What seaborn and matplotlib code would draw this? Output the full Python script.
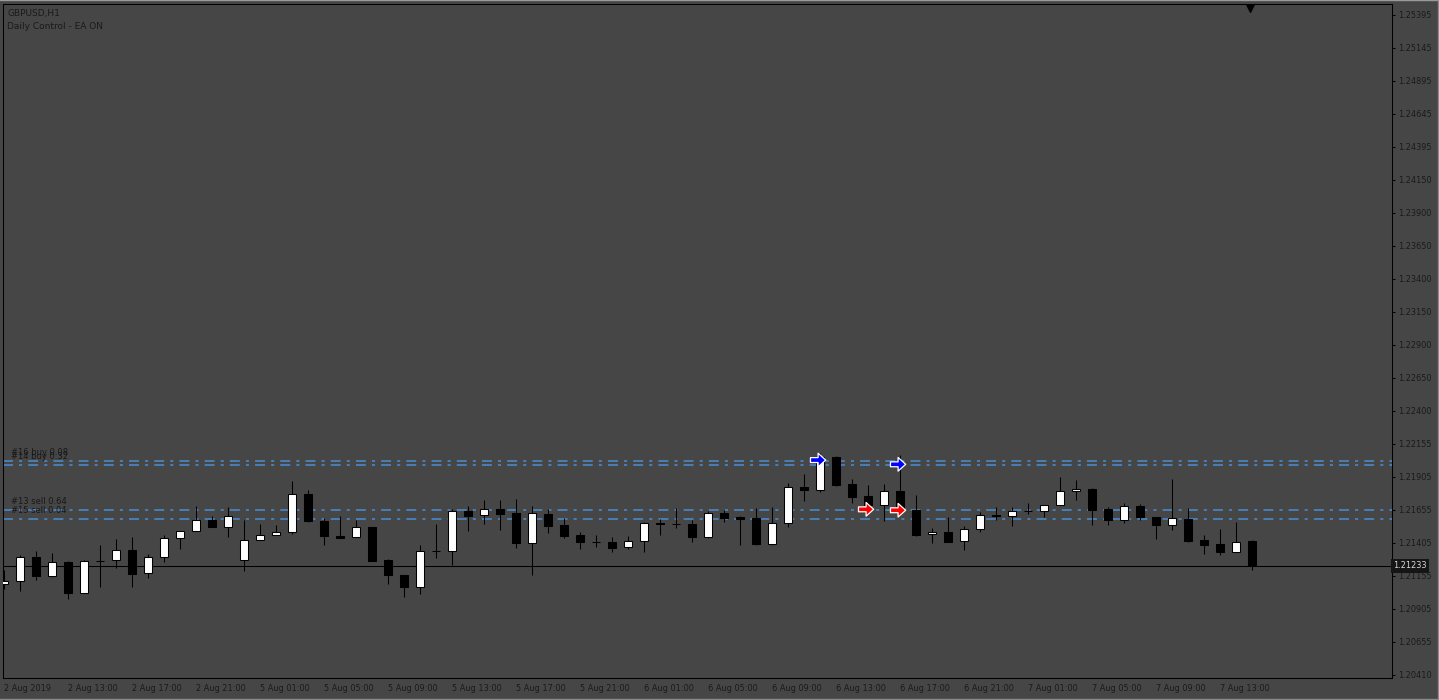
import numpy as np
import pandas as pd
import matplotlib
matplotlib.use("Agg")
import matplotlib.pyplot as plt
from matplotlib.path import Path
from matplotlib.transforms import blended_transform_factory
import seaborn as sns

# ---------------- data ----------------
times = list(pd.date_range("2019-08-02 09:00", "2019-08-02 23:00", freq="h")) + \
        list(pd.date_range("2019-08-05 00:00", "2019-08-07 15:00", freq="h"))

opens = [1.21095, 1.21118, 1.21299, 1.21160, 1.21261, 1.21027, 1.21269, 1.21276, 1.21352, 1.21178,
         1.21299, 1.21442, 1.21495, 1.21578, 1.21525, 1.21276, 1.21427, 1.21465, 1.21488, 1.21775,
         1.21575, 1.21462, 1.21450, 1.21525, 1.21276, 1.21163, 1.21077, 1.21344, 1.21344, 1.21646,
         1.21616, 1.21661, 1.21631, 1.21405, 1.21626, 1.21540, 1.21465, 1.21412, 1.21412, 1.21374,
         1.21420, 1.21556, 1.21550, 1.21552, 1.21454, 1.21631, 1.21603, 1.21596, 1.21402, 1.21556,
         1.21827, 1.21809, 1.22056, 1.21852, 1.21762, 1.21696, 1.21797, 1.21656, 1.21473, 1.21488,
         1.21420, 1.21510, 1.21616, 1.21613, 1.21646, 1.21645, 1.21691, 1.21797, 1.21812, 1.21661,
         1.21583, 1.21684, 1.21601, 1.21540, 1.21586, 1.21430, 1.21399, 1.21337, 1.21420]
highs = [1.21203, 1.21316, 1.21346, 1.21331, 1.21273, 1.21276, 1.21389, 1.21437, 1.21450, 1.21324,
         1.21467, 1.21495, 1.21686, 1.21608, 1.21676, 1.21578, 1.21550, 1.21543, 1.21875, 1.21807,
         1.21593, 1.21611, 1.21581, 1.21525, 1.21286, 1.21163, 1.21392, 1.21550, 1.21661, 1.21686,
         1.21732, 1.21732, 1.21737, 1.21686, 1.21661, 1.21593, 1.21488, 1.21467, 1.21452, 1.21460,
         1.21568, 1.21588, 1.21671, 1.21581, 1.21648, 1.21656, 1.21611, 1.21671, 1.21679, 1.21860,
         1.21928, 1.22084, 1.22064, 1.21890, 1.21845, 1.21852, 1.22071, 1.21769, 1.21518, 1.21601,
         1.21535, 1.21641, 1.21679, 1.21679, 1.21709, 1.21691, 1.21905, 1.21883, 1.21822, 1.21679,
         1.21709, 1.21701, 1.21601, 1.21890, 1.21669, 1.21465, 1.21510, 1.21565, 1.21430]
lows = [1.21057, 1.21047, 1.21130, 1.21152, 1.20986, 1.21027, 1.21077, 1.21220, 1.21072, 1.21145,
        1.21266, 1.21364, 1.21495, 1.21525, 1.21454, 1.21198, 1.21427, 1.21465, 1.21473, 1.21565,
        1.21392, 1.21447, 1.21450, 1.21273, 1.21100, 1.21001, 1.21024, 1.21296, 1.21243, 1.21500,
        1.21553, 1.21507, 1.21371, 1.21168, 1.21485, 1.21447, 1.21364, 1.21379, 1.21341, 1.21359,
        1.21341, 1.21470, 1.21522, 1.21417, 1.21447, 1.21568, 1.21394, 1.21394, 1.21394, 1.21530,
        1.21726, 1.21794, 1.21840, 1.21711, 1.21696, 1.21575, 1.21651, 1.21462, 1.21409, 1.21417,
        1.21354, 1.21492, 1.21581, 1.21537, 1.21626, 1.21605, 1.21691, 1.21734, 1.21545, 1.21545,
        1.21556, 1.21583, 1.21439, 1.21507, 1.21417, 1.21326, 1.21319, 1.21337, 1.21205]
closes = [1.21118, 1.21299, 1.21160, 1.21261, 1.21027, 1.21269, 1.21271, 1.21352, 1.21175, 1.21299,
          1.21442, 1.21495, 1.21578, 1.21525, 1.21608, 1.21427, 1.21465, 1.21488, 1.21775, 1.21573,
          1.21462, 1.21447, 1.21525, 1.21273, 1.21168, 1.21077, 1.21344, 1.21343, 1.21646, 1.21613,
          1.21661, 1.21628, 1.21405, 1.21631, 1.21537, 1.21462, 1.21412, 1.21413, 1.21371, 1.21420,
          1.21556, 1.21548, 1.21552, 1.21454, 1.21631, 1.21598, 1.21590, 1.21402, 1.21556, 1.21827,
          1.21809, 1.22056, 1.21847, 1.21756, 1.21696, 1.21797, 1.21651, 1.21470, 1.21488, 1.21417,
          1.21510, 1.21616, 1.21608, 1.21646, 1.21645, 1.21691, 1.21797, 1.21812, 1.21658, 1.21583,
          1.21684, 1.21601, 1.21540, 1.21593, 1.21424, 1.21394, 1.21341, 1.21412, 1.21233]

order_labels = ["#16 buy 0.08", "#14 buy 0.32", "#13 sell 0.64", "#15 sell 0.04"]
order_prices = [1.22028, 1.21998, 1.21656, 1.21590]

arrow_bars = [51, 56, 54, 56]
arrow_prices = [1.22033, 1.22001, 1.21661, 1.21654]
arrow_colors = ["#0000ff", "#0000ff", "#ff0000", "#ff0000"]

current_price = 1.21233

ytick_labels = ["1.25395", "1.25145", "1.24895", "1.24645", "1.24395", "1.24150", "1.23900",
                "1.23650", "1.23400", "1.23150", "1.22900", "1.22650", "1.22400", "1.22155",
                "1.21905", "1.21655", "1.21405", "1.21155", "1.20905", "1.20655", "1.20410"]
ytick_top, ytick_bottom = 1.25395, 1.20410
y_view = (1.20387, 1.25474)
x_view = (-0.0625, 86.75)

xtick_bars = [0, 4, 8, 12, 16, 20, 24, 28, 32, 36, 40, 44, 48, 52, 56, 60, 64, 68, 72, 76]
xtick_labels = ["2 Aug 2019", "2 Aug 13:00", "2 Aug 17:00", "2 Aug 21:00", "5 Aug 01:00",
                "5 Aug 05:00", "5 Aug 09:00", "5 Aug 13:00", "5 Aug 17:00", "5 Aug 21:00",
                "6 Aug 01:00", "6 Aug 05:00", "6 Aug 09:00", "6 Aug 13:00", "6 Aug 17:00",
                "6 Aug 21:00", "7 Aug 01:00", "7 Aug 05:00", "7 Aug 09:00", "7 Aug 13:00"]

title_lines = ["GBPUSD,H1", "Daily Control - EA ON"]

# ---------------- style ----------------
BG = "#464646"
TXT = "#1a1a1a"
sns.set_theme(style="dark", rc={
    "axes.facecolor": BG, "figure.facecolor": BG, "axes.edgecolor": "black",
    "axes.linewidth": 0.75, "xtick.color": "black", "ytick.color": "black",
    "xtick.labelcolor": TXT, "ytick.labelcolor": TXT,
})
plt.rcParams["font.family"] = ["DejaVu Sans"]

fig = plt.figure(figsize=(14.39, 7.0), dpi=100)
ax = fig.add_axes([3 / 1439, 22 / 700, 1389 / 1439, 673.5 / 700])

df = pd.DataFrame({"time": times, "open": opens, "high": highs, "low": lows, "close": closes})
df["idx"] = np.arange(len(df))
df["bull"] = df["close"] >= df["open"]

# wicks
ax.vlines(df["idx"], df["low"], df["high"], color="black", linewidth=0.75, zorder=3)
# bodies
heights = (df["close"] - df["open"]).to_numpy()
heights = np.where(np.abs(heights) < 1e-6, 1e-6, heights)
ax.bar(df["idx"], heights, bottom=df["open"], width=0.56,
       color=np.where(df["bull"], "white", "black"), edgecolor="black",
       linewidth=0.75, zorder=4)

# order lines + labels
for lab, pr in zip(order_labels, order_prices):
    ax.axhline(pr, color="#4a8fd3", linewidth=1.1, linestyle=(0, (6.5, 4.0, 2.0, 4.0)), zorder=2)
    ax.text(0.44, pr + 0.0003, lab, fontsize=6.0, color="#181818", ha="left", va="bottom", zorder=5)

# current price line
ax.axhline(current_price, color="black", linewidth=0.75, zorder=2)

# trade arrows
arrow_path = Path([(-1, -0.32), (0.0, -0.32), (0.0, -0.9), (1, 0), (0.0, 0.9),
                   (0.0, 0.32), (-1, 0.32), (-1, -0.32)],
                  [Path.MOVETO] + [Path.LINETO] * 6 + [Path.CLOSEPOLY])
arr_df = pd.DataFrame({"x": np.array(arrow_bars) - 0.12, "y": arrow_prices, "c": arrow_colors})
sns.scatterplot(data=arr_df, x="x", y="y", hue="c", palette={c: c for c in set(arrow_colors)},
                marker=arrow_path, s=120, edgecolor="white", linewidth=0.9, legend=False,
                zorder=6, ax=ax)

ax.set_xlim(*x_view)
ax.set_ylim(*y_view)
ax.set_xlabel("")
ax.set_ylabel("")

# y ticks on right
ax.yaxis.tick_right()
yt = np.linspace(ytick_top, ytick_bottom, len(ytick_labels))
ax.set_yticks(yt)
ax.set_yticklabels(ytick_labels)
ax.tick_params(axis="y", direction="out", length=2.5, width=0.75, pad=1.5, labelsize=5.9)

ax.set_xticks(xtick_bars)
ax.set_xticklabels(xtick_labels)
ax.tick_params(axis="x", direction="out", length=2.8, width=0.75, pad=1.5, labelsize=5.9)
for t in ax.get_xticklabels():
    t.set_horizontalalignment("left")

for s in ax.spines.values():
    s.set_visible(True)
    s.set_color("black")
    s.set_linewidth(0.75)
ax.grid(False)

# current price label on the axis
trans = blended_transform_factory(ax.transAxes, ax.transData)
ax.text(1.0008, current_price, "1.21233", transform=trans, fontsize=5.9, color="#d8d8d8",
        ha="left", va="center", zorder=7,
        bbox=dict(boxstyle="square,pad=0.25", fc="#151515", ec="none"), clip_on=False)

# chart shift marker
px = (y_view[1] - y_view[0]) / 673.5
ax.scatter([77.9], [y_view[1] - 3.2 * px], marker="v", s=30, color="black", zorder=7, clip_on=False)

# top-left text
ax.text(0.003, 0.987, title_lines[0], transform=ax.transAxes, fontsize=6.5, color=TXT,
        ha="left", va="center")
ax.text(0.003, 0.968, title_lines[1], transform=ax.transAxes, fontsize=6.5, color=TXT,
        ha="left", va="center")

# window border
fig.add_artist(plt.Line2D([0, 1], [0.9995, 0.9995], transform=fig.transFigure, color="#9a9a9a", lw=1))
fig.add_artist(plt.Line2D([0.9995, 0.9995], [0, 1], transform=fig.transFigure, color="#8a8a8a", lw=1))
fig.add_artist(plt.Line2D([0, 1], [0.001, 0.001], transform=fig.transFigure, color="#8a8a8a", lw=1))

fig.savefig("out.png", dpi=100, facecolor=BG)
